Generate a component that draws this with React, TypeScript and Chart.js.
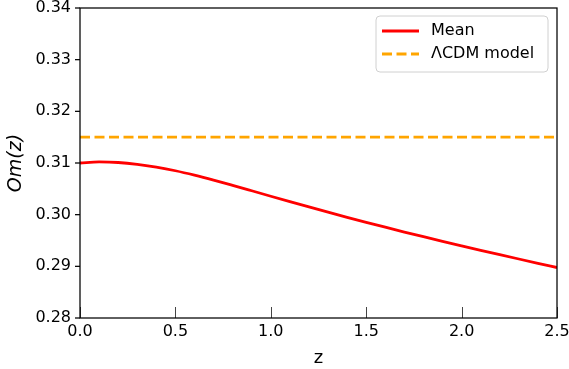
import React, { useEffect, useRef } from "react";
import { Chart, registerables } from "chart.js";

Chart.register(...registerables);

const zValues = [0, 0.1, 0.2, 0.3, 0.4, 0.5, 0.6, 0.7, 0.8, 0.9, 1.0, 1.1, 1.2, 1.3, 1.4, 1.5, 1.6, 1.7, 1.8, 1.9, 2.0, 2.1, 2.2, 2.3, 2.4, 2.5];
const meanOm = [0.31000, 0.31020, 0.31010, 0.30975, 0.30920, 0.30850, 0.30765, 0.30670, 0.30568, 0.30463, 0.30357, 0.30252, 0.30149, 0.30048, 0.29949, 0.29852, 0.29757, 0.29664, 0.29573, 0.29484, 0.29397, 0.29311, 0.29226, 0.29142, 0.29059, 0.28977];
const lcdmZ = [0, 2.5];
const lcdmOm = [0.315, 0.315];
const seriesLabels = ["Mean", "ΛCDM model"];
const xLabel = "z";
const yLabel = "Om(z)";

const FONT = "'DejaVu Sans', sans-serif";

const framePlugin = {
  id: "frameAndTicks",
  afterDatasetsDraw(chart: any) {
    const { ctx, chartArea: a, scales } = chart;
    ctx.save();
    ctx.strokeStyle = "#444";
    ctx.lineWidth = 1;
    scales.x.ticks.forEach((t: any) => {
      const px = Math.round(scales.x.getPixelForValue(t.value)) + 0.5;
      ctx.beginPath();
      ctx.moveTo(px, a.bottom);
      ctx.lineTo(px, a.bottom - 11);
      ctx.stroke();
    });
    ctx.strokeStyle = "#000";
    ctx.lineWidth = 1.25;
    scales.y.ticks.forEach((t: any) => {
      const py = scales.y.getPixelForValue(t.value);
      ctx.beginPath();
      ctx.moveTo(a.left, py);
      ctx.lineTo(a.left - 5, py);
      ctx.stroke();
    });
    ctx.strokeStyle = "#000";
    ctx.lineWidth = 1.25;
    ctx.strokeRect(a.left, a.top, a.right - a.left, a.bottom - a.top);

    const bw = 172, bh = 56;
    const bx = a.right - 9 - bw, by = a.top + 8;
    const r = 4;
    ctx.beginPath();
    ctx.moveTo(bx + r, by);
    ctx.lineTo(bx + bw - r, by);
    ctx.quadraticCurveTo(bx + bw, by, bx + bw, by + r);
    ctx.lineTo(bx + bw, by + bh - r);
    ctx.quadraticCurveTo(bx + bw, by + bh, bx + bw - r, by + bh);
    ctx.lineTo(bx + r, by + bh);
    ctx.quadraticCurveTo(bx, by + bh, bx, by + bh - r);
    ctx.lineTo(bx, by + r);
    ctx.quadraticCurveTo(bx, by, bx + r, by);
    ctx.closePath();
    ctx.fillStyle = "rgba(255,255,255,0.8)";
    ctx.fill();
    ctx.strokeStyle = "#d0d0d0";
    ctx.lineWidth = 1;
    ctx.stroke();

    chart.data.datasets.forEach((ds: any, i: number) => {
      const y = by + 15 + i * 23;
      ctx.beginPath();
      ctx.setLineDash(ds.borderDash || []);
      ctx.strokeStyle = ds.borderColor;
      ctx.lineWidth = ds.borderWidth;
      ctx.moveTo(bx + 6, y);
      ctx.lineTo(bx + 43, y);
      ctx.stroke();
      ctx.setLineDash([]);
      ctx.fillStyle = "#000";
      ctx.font = `16px ${FONT}`;
      ctx.textBaseline = "middle";
      ctx.textAlign = "left";
      ctx.fillText(ds.label, bx + 55, y);
    });
    ctx.restore();
  },
};

export default function App() {
  const ref = useRef<HTMLCanvasElement | null>(null);
  useEffect(() => {
    document.body.style.margin = "0";
    const canvas = ref.current!;
    const zeroPad = (s: any) => {
      s.paddingTop = 0;
      s.paddingBottom = 0;
      s.paddingLeft = 0;
      s.paddingRight = 0;
    };
    const chart = new Chart(canvas, {
      type: "line",
      data: {
        datasets: [
          {
            label: seriesLabels[0],
            data: zValues.map((z, i) => ({ x: z, y: meanOm[i] })),
            borderColor: "#ff0000",
            borderWidth: 2.8,
            pointRadius: 0,
            cubicInterpolationMode: "monotone",
            fill: false,
          },
          {
            label: seriesLabels[1],
            data: lcdmZ.map((z, i) => ({ x: z, y: lcdmOm[i] })),
            borderColor: "#ffa500",
            borderWidth: 2.8,
            borderDash: [10, 4.5],
            pointRadius: 0,
            fill: false,
          },
        ],
      },
      options: {
        animation: false,
        responsive: false,
        maintainAspectRatio: false,
        layout: { padding: { top: 8, right: 12, left: 0, bottom: 0 } },
        plugins: { legend: { display: false }, tooltip: { enabled: false } },
        scales: {
          x: {
            type: "linear",
            min: 0,
            max: 2.5,
            grid: { display: false, drawTicks: false },
            border: { display: false },
            ticks: {
              stepSize: 0.5,
              color: "#000",
              padding: 4,
              maxRotation: 0,
              font: { family: FONT, size: 16 },
              callback: (v: any) => Number(v).toFixed(1),
            },
            title: {
              display: true,
              text: xLabel,
              color: "#000",
              font: { family: FONT, size: 18 },
              padding: { top: 1, bottom: 0 },
            },
            afterFit: (s: any) => {
              s.height = 51;
              zeroPad(s);
            },
          },
          y: {
            type: "linear",
            min: 0.28,
            max: 0.34,
            grid: { display: false, drawTicks: false },
            border: { display: false },
            ticks: {
              stepSize: 0.01,
              color: "#000",
              padding: 9,
              font: { family: FONT, size: 16 },
              callback: (v: any) => Number(v).toFixed(2),
            },
            title: {
              display: true,
              text: yLabel,
              color: "#000",
              font: { family: FONT, size: 19, style: "italic" },
              padding: { top: 5, bottom: 4 },
            },
            afterFit: (s: any) => {
              s.width = 80;
              zeroPad(s);
            },
          },
        },
      },
      plugins: [framePlugin],
    } as any);
    return () => chart.destroy();
  }, []);
  return (
    <div style={{ position: "absolute", left: 0, top: 0, width: 569, height: 369, background: "#fff" }}>
      <canvas ref={ref} width={569} height={369} style={{ width: 569, height: 369 }} />
    </div>
  );
}
